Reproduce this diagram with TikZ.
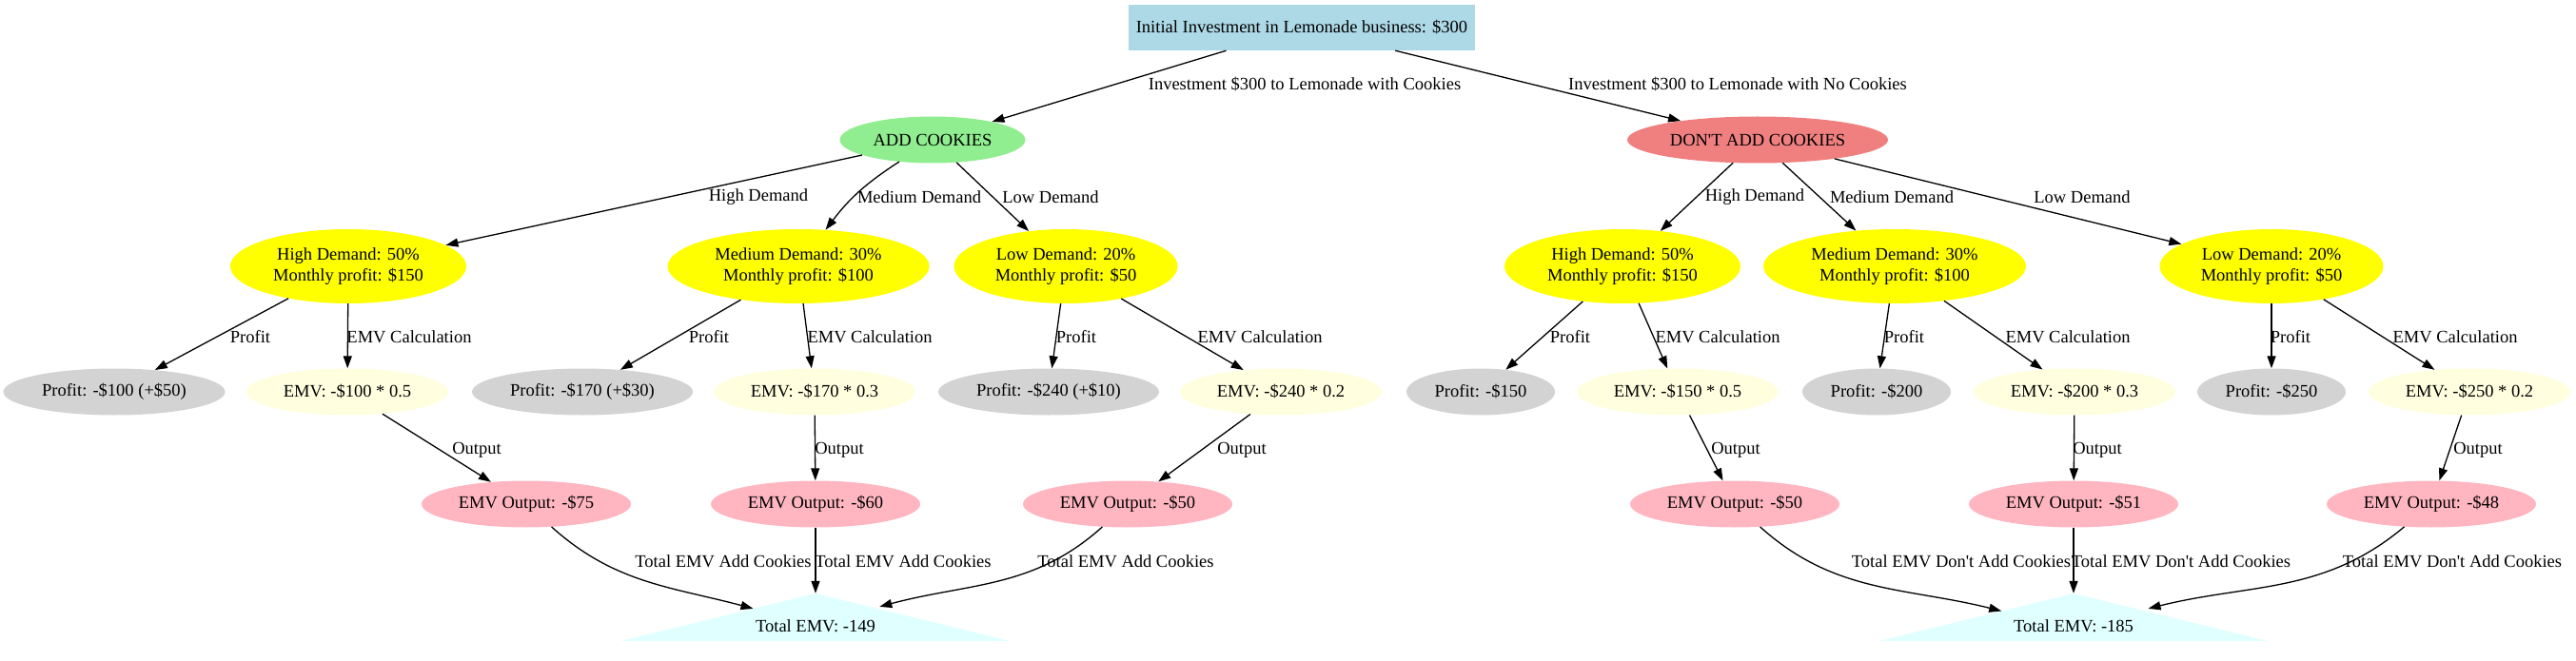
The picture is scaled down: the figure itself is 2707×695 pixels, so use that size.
\documentclass[tikz,border=0pt]{standalone}
\usepackage{fontspec}
\setmainfont{Liberation Serif}
\usetikzlibrary{shapes.geometric, arrows.meta, calc}
\definecolor{lightblue}{HTML}{ADD8E6}
\definecolor{lightgreen}{HTML}{90EE90}
\definecolor{lightcoral}{HTML}{F08080}
\definecolor{lightgray}{HTML}{D3D3D3}
\definecolor{lightyellow}{HTML}{FFFFE0}
\definecolor{lightpink}{HTML}{FFB6C1}
\definecolor{lightcyan}{HTML}{E0FFFF}
\definecolor{pureyellow}{HTML}{FFFF00}

\begin{document}
\begin{tikzpicture}[x=1pt, y=-1pt, font=\fontsize{18.5}{22}\selectfont,
		main/.style = {ellipse, inner sep=0pt, minimum height=49pt},
		root/.style = {rectangle, fill=lightblue, inner sep=0pt, minimum width=364pt, minimum height=48pt},
		demand/.style = {main, fill=pureyellow, minimum height=78pt, align=center},
		profit/.style = {main, fill=lightgray},
		emv/.style = {main, fill=lightyellow, minimum width=212pt},
		emvout/.style = {main, fill=lightpink, minimum width=220pt},
		total/.style = {rectangle, inner sep=0pt, minimum width=409pt, minimum height=50pt,
			text height=30pt, text depth=0pt,
			path picture={\fill[lightcyan] (path picture bounding box.north)
				-- (path picture bounding box.south west) -- (path picture bounding box.south east) -- cycle;}},
		arr/.style = {line width=1.3pt, -{Triangle[length=13pt, width=9pt]}},
		lbl/.style = {inner sep=0pt}]
	\useasboundingbox (0,0) rectangle (2707,695);

	\node[root] (1) at (1368,29) {Initial Investment in Lemonade business: \$300};
	\node[main, fill=lightgreen, minimum width=195pt] (2) at (980,147) {ADD COOKIES};
	\node[main, fill=lightcoral, minimum width=274pt] (3) at (1847,147) {DON\textquotesingle T ADD COOKIES};

	\node[demand, minimum width=248pt] (4) at (366,280) {High Demand: 50\%\\Monthly profit: \$150};
	\node[demand, minimum width=275pt] (5) at (839,280) {Medium Demand: 30\%\\Monthly profit: \$100};
	\node[demand, minimum width=235pt] (6) at (1120,280) {Low Demand: 20\%\\Monthly profit: \$50};
	\node[demand, minimum width=248pt] (7) at (1705,280) {High Demand: 50\%\\Monthly profit: \$150};
	\node[demand, minimum width=276pt] (8) at (1991,280) {Medium Demand: 30\%\\Monthly profit: \$100};
	\node[demand, minimum width=235pt] (9) at (2387,280) {Low Demand: 20\%\\Monthly profit: \$50};

	\node[profit, minimum width=233pt] (10) at (120,412) {Profit: -\$100 (+\$50)};
	\node[emv] (11) at (365,412) {EMV: -\$100 * 0.5};
	\node[profit, minimum width=232pt] (12) at (612,412) {Profit: -\$170 (+\$30)};
	\node[emv] (13) at (856,412) {EMV: -\$170 * 0.3};
	\node[profit, minimum width=232pt] (14) at (1102,412) {Profit: -\$240 (+\$10)};
	\node[emv] (15) at (1346,412) {EMV: -\$240 * 0.2};
	\node[profit, minimum width=156pt] (16) at (1556,412) {Profit: -\$150};
	\node[emv] (17) at (1763,412) {EMV: -\$150 * 0.5};
	\node[profit, minimum width=156pt] (18) at (1972,412) {Profit: -\$200};
	\node[emv] (19) at (2180,412) {EMV: -\$200 * 0.3};
	\node[profit, minimum width=156pt] (20) at (2387,412) {Profit: -\$250};
	\node[emv] (21) at (2595,412) {EMV: -\$250 * 0.2};

	\node[emvout] (22) at (553,530) {EMV Output: -\$75};
	\node[emvout] (23) at (857,530) {EMV Output: -\$60};
	\node[emvout] (24) at (1185,530) {EMV Output: -\$50};
	\node[emvout] (25) at (1823,530) {EMV Output: -\$50};
	\node[emvout] (26) at (2179,530) {EMV Output: -\$51};
	\node[emvout] (27) at (2555,530) {EMV Output: -\$48};

	\node[total] (28) at (857,649) {Total EMV: -149};
	\node[total] (29) at (2179,649) {Total EMV: -185};

	\draw[arr] (1) -- (2) node[lbl] at (1371,89) {Investment \$300 to Lemonade with Cookies};
	\draw[arr] (1) -- (3) node[lbl] at (1826,89) {Investment \$300 to Lemonade with No Cookies};

	\draw[arr] (2) -- (4) node[lbl] at (797,207) {High Demand};
	\draw[arr] (2) to[bend right=10] (5) node[lbl] at (966,207) {Medium Demand};
	\draw[arr] (2) -- (6) node[lbl] at (1104,207) {Low Demand};
	\draw[arr] (3) -- (7) node[lbl] at (1844,207) {High Demand};
	\draw[arr] (3) -- (8) node[lbl] at (1988,207) {Medium Demand};
	\draw[arr] (3) -- (9) node[lbl] at (2188,207) {Low Demand};

	\draw[arr] (4) -- (10) node[lbl] at (263,354) {Profit};
	\draw[arr] (4) -- (11) node[lbl] at (430,354) {EMV Calculation};
	\draw[arr] (5) -- (12) node[lbl] at (745,354) {Profit};
	\draw[arr] (5) -- (13) node[lbl] at (914,354) {EMV Calculation};
	\draw[arr] (6) -- (14) node[lbl] at (1131,354) {Profit};
	\draw[arr] (6) -- (15) node[lbl] at (1324,354) {EMV Calculation};
	\draw[arr] (7) -- (16) node[lbl] at (1650,354) {Profit};
	\draw[arr] (7) -- (17) node[lbl] at (1805,354) {EMV Calculation};
	\draw[arr] (8) -- (18) node[lbl] at (2001,354) {Profit};
	\draw[arr] (8) -- (19) node[lbl] at (2173,354) {EMV Calculation};
	\draw[arr] (9) -- (20) node[lbl] at (2407,354) {Profit};
	\draw[arr] (9) -- (21) node[lbl] at (2580,354) {EMV Calculation};

	\draw[arr] (11) -- (22) node[lbl] at (501,473) {Output};
	\draw[arr] (13) -- (23) node[lbl] at (882,473) {Output};
	\draw[arr] (15) -- (24) node[lbl] at (1305,473) {Output};
	\draw[arr] (17) -- (25) node[lbl] at (1824,473) {Output};
	\draw[arr] (19) -- (26) node[lbl] at (2204,473) {Output};
	\draw[arr] (21) -- (27) node[lbl] at (2604,473) {Output};

	\draw[arr] (22) to[out=-42, in=165] ($(28.north)!0.32!(28.south west)$) node[lbl] at (760,590) {Total EMV Add Cookies};
	\draw[arr] (23) -- (28.north) node[lbl] at (949,590) {Total EMV Add Cookies};
	\draw[arr] (24) to[out=-138, in=15] ($(28.north)!0.28!(28.south east)+(10,0)$) node[lbl] at (1183,590) {Total EMV Add Cookies};
	\draw[arr] (25) to[out=-42, in=166] ($(29.north)!0.37!(29.south west)$) node[lbl] at (2061,590) {Total EMV Don\textquotesingle t Add Cookies};
	\draw[arr] (26) -- (29.north) node[lbl] at (2292,590) {Total EMV Don\textquotesingle t Add Cookies};
	\draw[arr] (27) to[out=-140, in=14] ($(29.north)!0.32!(29.south east)+(13,0)$) node[lbl] at (2577,590) {Total EMV Don\textquotesingle t Add Cookies};
\end{tikzpicture}
\end{document}
